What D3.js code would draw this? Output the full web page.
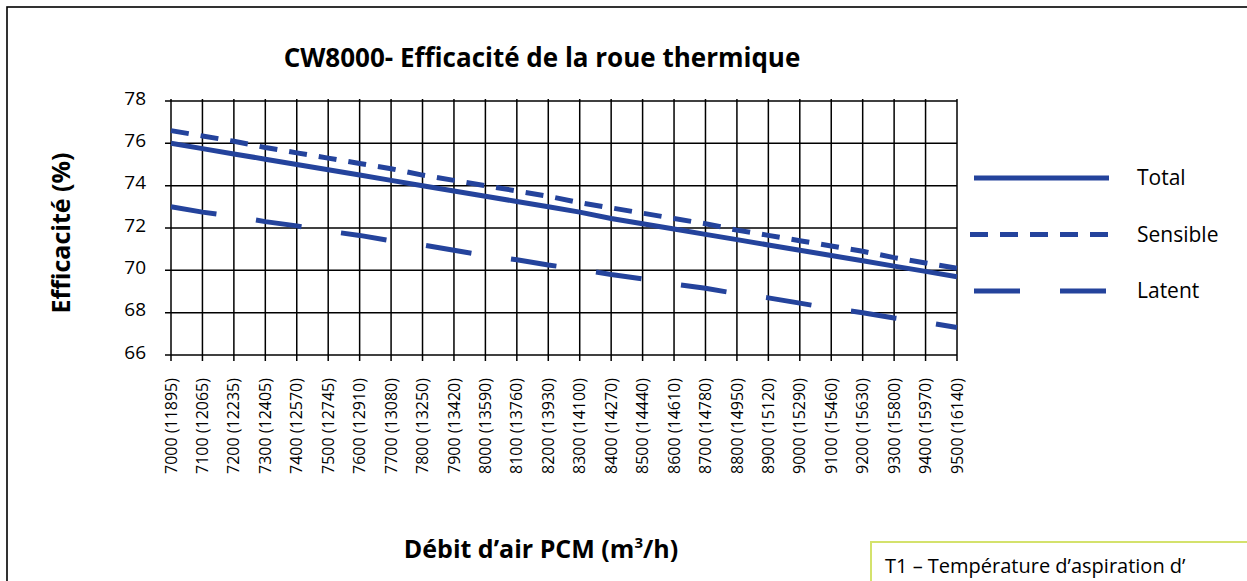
<!DOCTYPE html>
<html>
<head>
<meta charset="utf-8">
<script src="https://cdn.jsdelivr.net/npm/d3@7"></script>
<style>
  body { margin: 0; background: #fff; }
  text { font-family: "Open Sans", sans-serif; fill: #000; }
</style>
</head>
<body>
<div id="chart"></div>
<script>
var width = 1247, height = 581;
var margin = { top: 101, left: 171, right: 290, bottom: 226 };
var blue = '#24439c';

var debits = [7000, 7100, 7200, 7300, 7400, 7500, 7600, 7700, 7800, 7900, 8000, 8100, 8200,
              8300, 8400, 8500, 8600, 8700, 8800, 8900, 9000, 9100, 9200, 9300, 9400, 9500];
var debitsM3h = [11895, 12065, 12235, 12405, 12570, 12745, 12910, 13080, 13250, 13420, 13590, 13760, 13930,
                 14100, 14270, 14440, 14610, 14780, 14950, 15120, 15290, 15460, 15630, 15800, 15970, 16140];
var total = [76.0, 75.75, 75.5, 75.25, 75.0, 74.75, 74.5, 74.25, 74.0, 73.75, 73.5, 73.25, 73.0,
             72.75, 72.45, 72.2, 71.95, 71.7, 71.45, 71.2, 70.95, 70.7, 70.45, 70.2, 69.95, 69.7];
var sensible = [76.6, 76.35, 76.1, 75.8, 75.55, 75.3, 75.05, 74.8, 74.5, 74.25, 74.0, 73.75, 73.5,
                73.2, 72.95, 72.7, 72.45, 72.2, 71.9, 71.65, 71.4, 71.15, 70.9, 70.6, 70.35, 70.1];
var latent = [73.0, 72.75, 72.55, 72.3, 72.1, 71.85, 71.65, 71.4, 71.2, 70.95, 70.7, 70.5, 70.25,
              70.05, 69.8, 69.6, 69.35, 69.15, 68.9, 68.7, 68.45, 68.2, 68.0, 67.75, 67.55, 67.3];
var yTicks = [66, 68, 70, 72, 74, 76, 78];

var series = [
    { name: 'Total', values: total, dash: null },
    { name: 'Sensible', values: sensible, dash: '18,12' },
    { name: 'Latent', values: latent, dash: '46,40' }
];

var svg = d3.select('#chart').append('svg')
    .attr('width', width)
    .attr('height', height);

// outer frame (runs off the page right and bottom)
svg.append('rect')
    .attr('x', 7).attr('y', 7)
    .attr('width', 1400).attr('height', 800)
    .style('fill', 'none').style('stroke', '#000').style('stroke-width', 1.6);

var x = d3.scalePoint()
    .domain(debits)
    .range([margin.left, width - margin.right])
    .padding(0);
var y = d3.scaleLinear()
    .domain([66, 78])
    .range([height - margin.bottom, margin.top]);

// grid
var grid = svg.append('g');
grid.selectAll('.hgrid')
    .data(yTicks)
    .enter().append('line')
    .attr('x1', x.range()[0] - 6).attr('x2', x.range()[1])
    .attr('y1', function(d){ return y(d); }).attr('y2', function(d){ return y(d); })
    .style('stroke', '#000').style('stroke-width', 1.5);
grid.selectAll('.vgrid')
    .data(debits)
    .enter().append('line')
    .attr('x1', function(d){ return x(d); }).attr('x2', function(d){ return x(d); })
    .attr('y1', y(78) - 2).attr('y2', y(66) + 6)
    .style('stroke', '#000').style('stroke-width', 1.5);

// y tick labels
svg.append('g').selectAll('text')
    .data(yTicks)
    .enter().append('text')
    .attr('x', 146)
    .attr('y', function(d){ return y(d) - 3; })
    .attr('dy', '0.35em')
    .attr('text-anchor', 'end')
    .style('font-size', '19px')
    .text(function(d){ return d; });

// x tick labels (vertical)
svg.append('g').selectAll('text')
    .data(debits)
    .enter().append('text')
    .attr('transform', function(d){ return 'translate(' + x(d) + ',378) rotate(-90)'; })
    .attr('dy', '0.35em')
    .attr('text-anchor', 'end')
    .style('font-size', '16px')
    .text(function(d, i){ return d + ' (' + debitsM3h[i] + ')'; });

// lines
var line = d3.line()
    .x(function(d, i){ return x(debits[i]); })
    .y(function(d){ return y(d); });

svg.append('g').selectAll('path')
    .data(series)
    .enter().append('path')
    .attr('d', function(s){ return line(s.values); })
    .style('fill', 'none')
    .style('stroke', blue)
    .style('stroke-width', 5)
    .style('stroke-dasharray', function(s){ return s.dash; });

// legend
var legend = svg.append('g').selectAll('g')
    .data(series)
    .enter().append('g')
    .attr('transform', function(d, i){ return 'translate(0,' + (178 + i * 56.5) + ')'; });
legend.append('line')
    .attr('x1', function(d, i){ return i == 1 ? 970 : 974; })
    .attr('x2', 1109)
    .style('stroke', blue)
    .style('stroke-width', 5)
    .style('stroke-dasharray', function(d){ return d.dash; });
legend.append('text')
    .attr('x', 1137)
    .attr('dy', '0.35em')
    .style('font-size', '21px')
    .text(function(d){ return d.name; });

// titles
svg.append('text')
    .attr('x', 542).attr('y', 67)
    .attr('text-anchor', 'middle')
    .style('font-size', '26px').style('font-weight', 'bold')
    .text('CW8000- Efficacité de la roue thermique');

svg.append('text')
    .attr('transform', 'translate(61,233) rotate(-90)')
    .attr('dy', '0.35em')
    .attr('text-anchor', 'middle')
    .style('font-size', '25px').style('font-weight', 'bold')
    .text('Efficacité (%)');

var xt = svg.append('text')
    .attr('x', 541).attr('y', 558)
    .attr('text-anchor', 'middle')
    .style('font-size', '25px').style('font-weight', 'bold');
xt.append('tspan').text('Débit d’air PCM (m');
xt.append('tspan').attr('dy', -10).style('font-size', '15px').text('3');
xt.append('tspan').attr('dy', 10).text('/h)');

// note box at bottom right (cut by the page)
svg.append('rect')
    .attr('x', 871).attr('y', 542)
    .attr('width', 600).attr('height', 200)
    .style('fill', 'none').style('stroke', '#d4e26c').style('stroke-width', 2);
svg.append('text')
    .attr('x', 885).attr('y', 573)
    .style('font-size', '20px')
    .text('T1 – Température d’aspiration d’');
</script>
</body>
</html>
